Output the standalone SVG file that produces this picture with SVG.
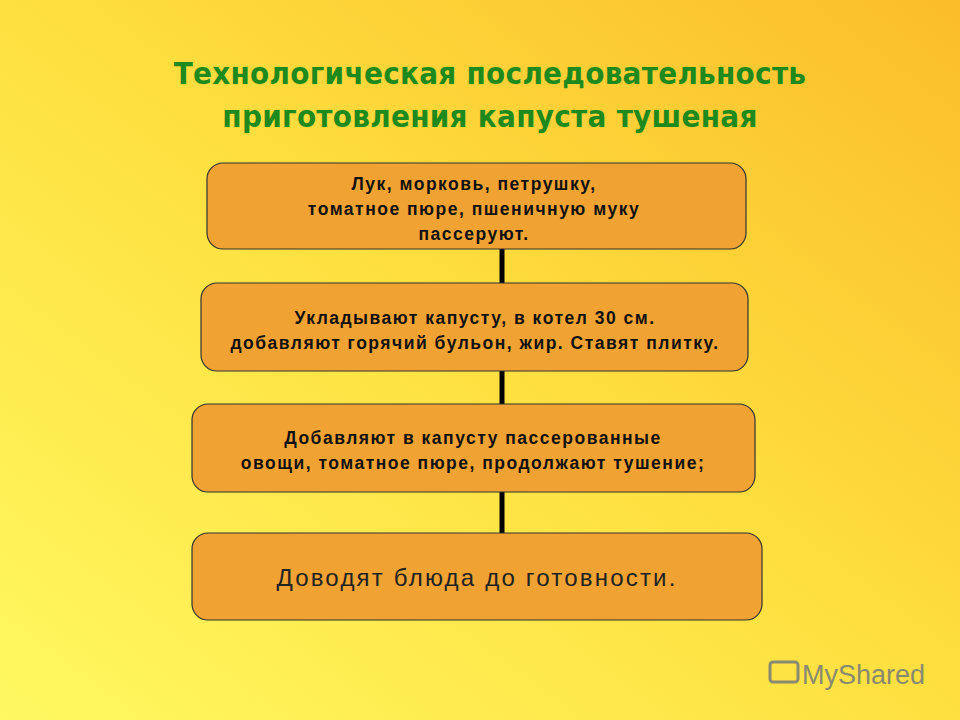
<svg xmlns="http://www.w3.org/2000/svg" width="960" height="720" viewBox="0 0 960 720">
<defs>
<linearGradient id="bg" x1="0" y1="1" x2="1" y2="0">
<stop offset="0" stop-color="#FFF860"/>
<stop offset="0.5" stop-color="#FEE040"/>
<stop offset="1" stop-color="#FBBD2A"/>
</linearGradient>
<style>
.box{fill:#F0A232;stroke:#333;stroke-width:1.2}
.t{font-family:"Liberation Sans",Arial,sans-serif;font-size:17.5px;font-weight:bold;fill:#111;text-anchor:middle;letter-spacing:1.5px}
.title{font-family:"DejaVu Sans Condensed","Liberation Sans",sans-serif;font-size:31px;font-weight:bold;fill:#1E8A1E;text-anchor:middle;letter-spacing:0.3px}
.c{stroke:#000;stroke-width:5}
</style>
</defs>
<rect width="960" height="720" fill="url(#bg)"/>
<text class="title" x="490" y="84">Технологическая последовательность</text>
<text class="title" x="490" y="127">приготовления капуста тушеная</text>
<g id="connectors">
<line class="c" x1="502" y1="249" x2="502" y2="283"/>
<line class="c" x1="502" y1="371" x2="502" y2="404"/>
<line class="c" x1="502" y1="492" x2="502" y2="533"/>
</g>
<g id="n1">
<rect class="box" x="207" y="163" width="539" height="86" rx="16"/>
<text class="t" x="474" y="190">Лук, морковь, петрушку,</text>
<text class="t" x="474" y="215">томатное пюре, пшеничную муку</text>
<text class="t" x="474" y="240">пассеруют.</text>
</g>
<g id="n2">
<rect class="box" x="201" y="283" width="547" height="88" rx="16"/>
<text class="t" x="475" y="324">Укладывают капусту, в котел 30 см.</text>
<text class="t" x="475" y="349">добавляют горячий бульон, жир. Ставят плитку.</text>
</g>
<g id="n3">
<rect class="box" x="192" y="404" width="563" height="88" rx="16"/>
<text class="t" x="473" y="444">Добавляют в капусту пассерованные</text>
<text class="t" x="473" y="469">овощи, томатное пюре, продолжают тушение;</text>
</g>
<g id="n4">
<rect class="box" x="192" y="533" width="570" height="87" rx="16"/>
<text x="477" y="586" style="font-family:'Liberation Sans',Arial,sans-serif;font-size:24px;fill:#222;text-anchor:middle;letter-spacing:2.2px">Доводят блюда до готовности.</text>
</g>
<g id="logo" fill="#8a8a70">
<rect x="770" y="662" width="28" height="20" rx="3" fill="none" stroke="#8a8a70" stroke-width="3"/>
<text x="802" y="684" style="font-family:'Liberation Sans',Arial,sans-serif;font-size:27px;fill:#8a8a70">MyShared</text>
</g>
</svg>
